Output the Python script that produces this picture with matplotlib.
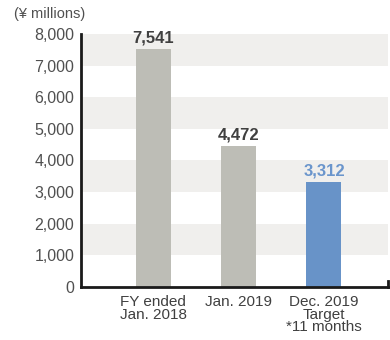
import matplotlib.pyplot as plt
import numpy as np

plt.rcParams['font.family'] = ['Liberation Sans', 'DejaVu Sans']

categories = ["FY ended\nJan. 2018", "Jan. 2019", "Dec. 2019\nTarget\n*11 months"]
values = [7541, 4472, 3312]
value_labels = ["7,541", "4,472", "3,312"]
yticks = [0, 1000, 2000, 3000, 4000, 5000, 6000, 7000, 8000]
ytick_labels = ["0", "1,000", "2,000", "3,000", "4,000", "5,000", "6,000", "7,000", "8,000"]

bar_colors = ["#bdbdb6", "#bdbdb6", "#6893c8"]
label_colors = ["#404040", "#404040", "#6a95cc"]

fig = plt.figure(figsize=(3.9, 3.4), dpi=100)
ax = fig.add_axes([0.208, 0.156, 0.787, 0.744])

x = np.arange(len(values))
xlim = (-0.842, 2.75)

# alternating background bands
for lo in [1000, 3000, 5000, 7000]:
    ax.axhspan(lo, lo + 1000, color="#f0efed", lw=0, zorder=0)

ax.bar(x, values, width=0.41, color=bar_colors, zorder=2)
for xi, v, lab, c in zip(x, values, value_labels, label_colors):
    ax.text(xi, v + 110, lab, ha="center", va="bottom", fontsize=12,
            fontweight="bold", color=c)

ax.set_xlim(*xlim)
ax.set_ylim(0, 8000)
ax.set_yticks(yticks)
ax.set_yticklabels(ytick_labels)
ax.set_xticks(x)
ax.set_xticklabels(categories, linespacing=0.85)
ax.tick_params(axis="y", length=0, pad=5, labelsize=11.5, labelcolor="#505050")
ax.tick_params(axis="x", length=0, pad=6, labelsize=11, labelcolor="#404040")

for s in ["top", "right"]:
    ax.spines[s].set_visible(False)
for s in ["left", "bottom"]:
    ax.spines[s].set_linewidth(2)
    ax.spines[s].set_color("#1a1a1a")
ax.axvline(xlim[1], ymin=0, ymax=0.025, color="#1a1a1a", lw=2, clip_on=False)

fig.text(0.035, 0.958, "(¥ millions)", fontsize=10.5, color="#505050", va="center")

fig.savefig("out.png", dpi=100)
